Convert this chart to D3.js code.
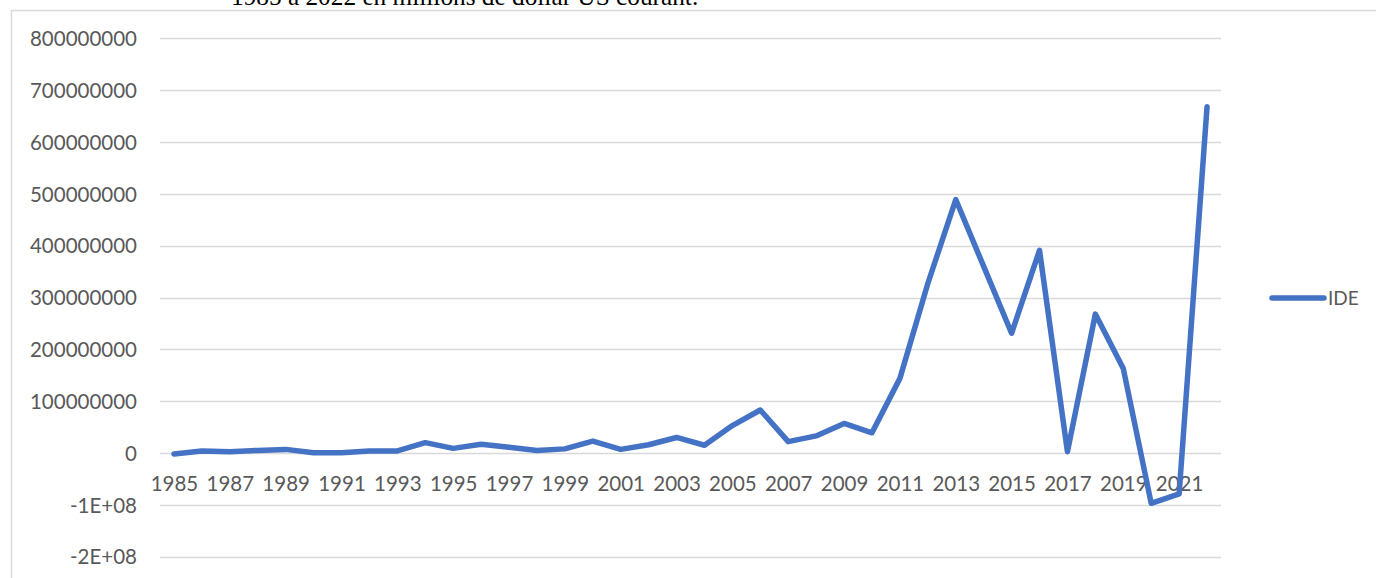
<!DOCTYPE html>
<html>
<head>
<meta charset="utf-8">
<script src="https://cdn.jsdelivr.net/npm/d3@7"></script>
<style>
	body{margin:0;background:#fff;overflow:hidden;}
	.chart{width:1376px;height:578px;}
	.tick-label{font-family:Lato, "Open Sans", sans-serif;font-size:20.5px;fill:#595959;}
</style>
</head>
<body>
<div class="chart"></div>
<script>
//Data (IDE, US dollars)
const years = d3.range(1985, 2023);
const ide = [
	-2e6, 4e6, 2.5e6, 5e6, 7e6, 0.5e6, 0.5e6, 4e6, 4e6, 20e6,
	9e6, 17e6, 11e6, 5e6, 8e6, 23e6, 7e6, 16e6, 30e6, 15e6,
	53e6, 83e6, 22e6, 33e6, 57e6, 39e6, 144e6, 327e6, 489e6, 360e6,
	231e6, 391e6, 2.5e6, 268e6, 163e6, -97e6, -79e6, 668e6
];
const yTicks = [-2e8, -1e8, 0, 1e8, 2e8, 3e8, 4e8, 5e8, 6e8, 7e8, 8e8];
const yTickLabels = ['-2E+08','-1E+08','0','100000000','200000000','300000000','400000000','500000000','600000000','700000000','800000000'];
const xTickYears = years.filter(function(d){return (d - 1985) % 2 === 0 && d < 2022});
const seriesName = 'IDE';
const titleText = '1985 à 2022 en millions de dollar US courant.';

//Prep work
const W = 1376, H = 578;
const margin = {t:38.3, r:155, b:21.3, l:160};

const svg = d3.select('.chart')
	.append('svg')
		.attr('width', W)
		.attr('height', H);

//Title of the document above the chart, cut by the top edge as in the source
svg.append('text')
	.attr('x', 231)
	.attr('y', 5)
	.style('font-family', '"Liberation Serif", "DejaVu Serif", serif')
	.style('font-size', '25.3px')
	.style('fill', '#000')
	.text(titleText);

//Chart frame
svg.append('path')
	.attr('d', `M11.5,${H} V10.5 H${W}`)
	.style('fill', 'none')
	.style('stroke', '#d9d9d9')
	.style('stroke-width', '1.5px');

const scaleX = d3.scalePoint()
	.domain(years)
	.range([margin.l, W - margin.r])
	.padding(0.5);

const scaleY = d3.scaleLinear()
	.domain([-2e8, 8e8])
	.range([H - margin.b, margin.t]);

const plot = svg.append('g').attr('class', 'plot');

//Gridlines
plot.selectAll('.grid')
	.data(yTicks)
	.enter()
	.append('line')
		.attr('class', 'grid')
		.attr('x1', margin.l)
		.attr('x2', W - margin.r)
		.attr('y1', function(d){return Math.round(scaleY(d)) + 0.5})
		.attr('y2', function(d){return Math.round(scaleY(d)) + 0.5})
		.style('stroke', '#d9d9d9')
		.style('stroke-width', '1.3px');

//Y axis labels
const yAxis = d3.axisLeft(scaleY)
	.tickValues(yTicks)
	.tickSize(0)
	.tickPadding(0)
	.tickFormat(function(d, i){return yTickLabels[i]});

plot.append('g')
	.attr('transform', `translate(${margin.l - 23}, 0)`)
	.call(yAxis)
	.call(function(g){g.select('.domain').remove()})
	.selectAll('text')
		.attr('class', 'tick-label')
		.attr('dy', '0.35em');

//X axis labels, sitting under the zero line
const xAxis = d3.axisBottom(scaleX)
	.tickValues(xTickYears)
	.tickSize(0)
	.tickPadding(0);

plot.append('g')
	.attr('transform', `translate(0, ${scaleY(0)})`)
	.call(xAxis)
	.call(function(g){g.select('.domain').remove()})
	.selectAll('text')
		.attr('class', 'tick-label')
		.attr('dy', null)
		.attr('y', 38);

plot.selectAll('g').attr('font-size', null).attr('font-family', null);

//Line
const line = d3.line()
	.x(function(d, i){return scaleX(years[i])})
	.y(function(d){return scaleY(d)});

plot.append('path')
	.datum(ide)
	.attr('d', line)
	.style('fill', 'none')
	.style('stroke', '#4472c4')
	.style('stroke-width', '5.5px')
	.style('stroke-linejoin', 'round')
	.style('stroke-linecap', 'round');

//Legend
const legend = svg.append('g').attr('transform', 'translate(1270, 298)');
legend.append('line')
	.attr('x1', 2).attr('x2', 54)
	.style('stroke', '#4472c4')
	.style('stroke-width', '5.5px')
	.style('stroke-linecap', 'round');
legend.append('text')
	.attr('class', 'tick-label')
	.attr('x', 58)
	.attr('dy', '0.35em')
	.style('font-size', '19px')
	.text(seriesName);
</script>
</body>
</html>
